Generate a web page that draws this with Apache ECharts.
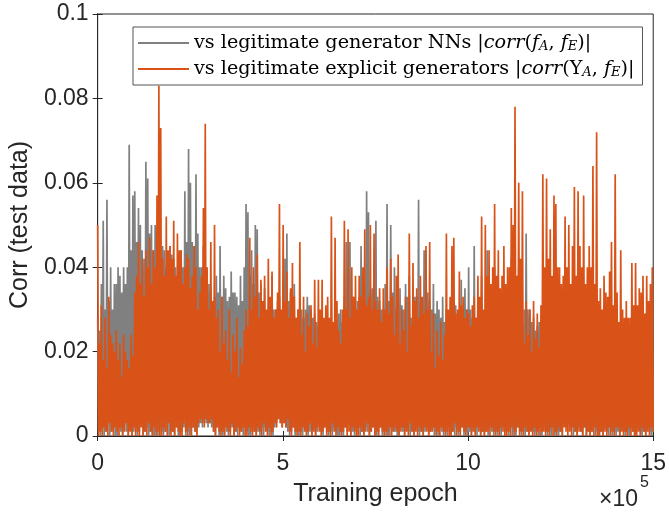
<!DOCTYPE html>
<html><head><meta charset="utf-8">
<script src="https://cdn.jsdelivr.net/npm/echarts/dist/echarts.min.js"></script>
<style>html,body{margin:0;padding:0;background:#fff}#c{width:669px;height:512px}</style>
</head><body><div id="c"></div>
<script>
// x axis in units of 10^5 training epochs
const xMin = 0, xMax = 15, xInterval = 5;
const yMin = 0, yMax = 0.1, yInterval = 0.02;
const seriesNames = ['gray', 'orange'];
// |corr| values, in thousandths (0.001).
// Local "peak" readings and the low "dip" readings between them are stored
// separately and alternate along the epoch axis (0 .. 15e5).
const grayPeakMilli = [
28,25,36,51,30,56,32,40,30,36, 36,40,38,34,40,36,40,69,44,57, 58,46,54,50,44,42,65,61,48,50,
44,50,46,48,40,45,44,40,42,45, 43,42,40,38,42,44,40,58,46,68, 60,46,45,62,48,40,40,45,38,36,
36,35,32,33,38,34,45,33,38,35, 32,33,39,34,34,33,31,38,32,40, 55,53,38,44,36,50,49,34,36,30,
35,28,30,30,38,30,30,32,33,28, 30,42,48,32,34,33,36,28,30,28, 30,28,30,33,31,30,28,29,27,26,
28,30,25,28,27,26,24,25,26,24, 29,30,27,33,46,32,46,30,33,28, 32,33,45,30,32,58,53,34,35,32,
51,33,32,30,30,36,55,32,50,34, 40,30,28,35,31,30,36,33,38,28, 32,33,33,56,31,30,44,44,34,32,
30,36,29,32,30,28,33,27,30,25, 27,28,29,31,25,28,37,28,35,30, 40,30,28,45,28,32,28,38,28,26,
44,26,30,28,40,29,27,29,25,26, 27,28,27,42,30,30,28,40,26,26, 30,48,30,30,27,28,25,26,27,27,
13,25,20,12,22,17,28,11,18,15, 20,14,30,16,12,15,18,25,13,12, 15,25,12,20,19,18,11,28,16,15,
12,28,20,14,22,17,20,13,25,18, 22,13,25,15,20,11,18,19,24,12, 25,16,15,13,20,18,22,12,18,20
];
const grayDipMilli = [
1,0,2,0,1,3,0,1,2,0, 0,2,1,0,3,1,0,2,0,1, 2,0,1,3,0,1,2,0,1,0,
0,1,0,2,1,0,1,3,0,1, 1,0,2,0,0,1,2,0,1,0, 0,2,1,0,2,3,2,4,3,2,
3,2,1,0,2,0,1,0,2,1, 0,1,2,0,1,0,3,1,0,2, 1,0,0,2,1,0,1,0,2,0,
2,1,0,1,0,2,3,4,3,2, 3,2,1,0,1,2,0,1,0,1, 0,2,1,0,1,0,2,0,1,3,
1,0,2,1,0,1,0,2,1,0, 0,1,0,2,1,3,0,1,0,2, 2,0,1,0,2,1,0,1,2,0,
0,1,2,0,1,0,1,0,2,1, 1,0,0,2,1,0,2,1,0,1, 0,2,1,0,1,0,1,2,0,1,
2,0,1,0,2,1,0,1,0,2, 0,1,0,2,0,1,2,0,1,0, 1,0,2,1,0,2,0,1,0,1,
0,2,1,0,1,0,1,0,2,1, 1,0,2,0,1,0,2,1,0,1, 0,1,0,2,1,0,1,0,2,0,
2,1,0,1,0,2,0,1,0,1, 0,3,2,3,2,2,0,1,0,2, 1,0,2,0,1,0,1,2,0,1,
0,1,0,2,1,0,2,0,1,0, 1,0,2,1,0,1,0,2,1,0, 0,2,1,0,1,0,2,1,0,1
];
const orangePeakMilli = [
50,22,31,18,28,16,33,24,22,20, 25,18,22,14,24,20,18,16,24,19, 34,38,46,36,42,33,44,40,47,36,
44,40,57,83,73,42,38,52,44,45, 42,51,38,48,44,44,36,40,43,42, 35,38,45,40,30,34,38,54,74,40,
30,46,32,50,28,30,20,33,22,25, 18,30,15,24,20,28,14,21,17,25, 30,26,47,30,40,33,43,28,37,32,
38,30,42,33,39,28,30,34,55,30, 50,32,39,28,35,41,33,28,30,46, 24,33,20,29,26,31,22,37,21,37,
30,37,28,31,33,28,52,27,47,32, 25,22,30,51,30,49,28,40,33,38, 30,38,33,40,49,31,33,50,30,48,
32,30,35,27,35,30,40,29,42,33, 24,38,43,22,30,25,33,20,48,26, 41,32,35,28,38,33,29,45,30,46,
20,29,16,25,19,27,18,24,48,30, 33,45,47,29,30,39,31,33,28,30, 29,26,31,33,28,38,33,52,30,50,
38,44,36,40,55,38,44,35,38,45, 36,40,40,54,50,78,38,60,42,58, 22,32,24,30,20,32,23,29,21,31,
62,40,61,42,49,38,57,55,40,40, 36,38,52,40,50,36,45,59,38,58, 45,40,57,36,40,45,40,64,36,72,
32,35,30,38,34,33,39,46,31,62, 34,27,44,30,28,32,28,28,41,31, 41,31,35,34,38,29,38,32,36,40
];
const orangeDipMilli = [
0,1,0,2,1,0,3,1,0,2, 1,0,2,0,1,3,0,1,0,2, 0,1,0,2,0,1,0,3,1,0,
2,0,1,0,0,2,1,0,3,0, 1,0,2,1,0,0,3,1,0,2, 0,2,1,0,3,4,3,2,4,3,
3,4,1,0,2,1,0,1,0,2, 1,0,3,0,1,2,0,1,2,0, 0,2,1,0,1,0,2,1,0,3,
1,0,2,0,1,3,2,4,3,2, 3,2,4,1,0,2,1,0,1,0, 2,1,0,1,3,0,1,0,2,1,
0,1,2,0,1,0,3,1,0,2, 1,0,1,2,0,1,0,2,1,0, 0,2,1,0,1,3,0,1,2,0,
1,0,2,1,0,1,0,2,0,1, 2,1,0,1,2,0,1,0,3,1, 0,1,0,2,1,0,2,1,0,1,
1,2,0,1,0,2,1,0,1,0, 0,1,3,0,1,0,2,1,0,2, 2,0,1,0,2,1,0,1,0,1,
1,0,2,1,0,1,0,2,1,0, 0,1,0,2,0,1,2,0,1,0, 2,1,0,1,0,2,0,1,0,1,
1,0,1,0,2,0,1,0,2,1, 0,2,1,0,1,0,2,1,0,1, 1,0,2,0,1,0,1,0,2,0,
0,1,0,1,0,2,0,1,0,2, 2,0,1,0,1,0,2,0,1,0, 0,1,0,2,1,0,1,0,2,1
];

// peaks and dips alternate: peak_0, dip_0, peak_1, dip_1, ...
function toPoints(peaks, dips) {
  const n = peaks.length * 2;
  const pts = [];
  for (let i = 0; i < peaks.length; i++) {
    pts.push([xMin + (2 * i) * (xMax - xMin) / (n - 1), peaks[i] / 1000]);
    pts.push([xMin + (2 * i + 1) * (xMax - xMin) / (n - 1), dips[i] / 1000]);
  }
  return pts;
}

const axisColor = '#262626';
const tickFont = { fontFamily: 'Liberation Sans', fontSize: 23, color: axisColor };
const serif = 'DejaVu Serif';
const legendRich = {
  it: { fontFamily: serif, fontStyle: 'italic', fontSize: 19.2, color: '#000' },
  sub: { fontFamily: serif, fontStyle: 'italic', fontSize: 13, color: '#000', padding: [8, 0, 0, 0] }
};
const legendLabels = {
  gray: 'vs legitimate generator NNs |{it|corr}({it|f}{sub|A}, {it|f}{sub|E})|',
  orange: 'vs legitimate explicit generators |{it|corr}(\u03A5{sub|A}, {it|f}{sub|E})|'
};

const chart = echarts.init(document.getElementById('c'), null, { renderer: 'canvas' });
chart.setOption({
  animation: false,
  backgroundColor: '#fff',
  grid: { left: 94, right: 13, top: 14, bottom: 75, show: true, borderColor: axisColor, borderWidth: 1, backgroundColor: 'transparent' },
  legend: {
    data: seriesNames.map(n => ({ name: n, icon: 'rect' })),
    orient: 'vertical', left: 133, top: 27,
    padding: [5, 8, 5, 5], itemGap: 4, itemWidth: 51, itemHeight: 2,
    borderColor: '#555', borderWidth: 1, backgroundColor: '#fff',
    textStyle: { fontFamily: serif, fontSize: 19.2, color: '#000', lineHeight: 22, rich: legendRich },
    formatter: name => legendLabels[name]
  },
  xAxis: [{
    type: 'value', min: xMin, max: xMax, interval: xInterval,
    name: 'Training epoch', nameLocation: 'middle', nameGap: 46,
    nameTextStyle: { fontFamily: 'Liberation Sans', fontSize: 25, color: axisColor },
    axisLine: { show: true, lineStyle: { color: axisColor, width: 1 } },
    axisTick: { show: true, inside: true, length: 5, lineStyle: { color: axisColor } },
    axisLabel: Object.assign({ margin: 16 }, tickFont),
    splitLine: { show: false }
  }, {
    type: 'value', position: 'top', min: xMin, max: xMax, interval: xInterval,
    axisLine: { show: true, lineStyle: { color: axisColor, width: 1 } },
    axisTick: { show: true, inside: true, length: 5, lineStyle: { color: axisColor } },
    axisLabel: { show: false }, splitLine: { show: false }
  }],
  yAxis: [{
    type: 'value', min: yMin, max: yMax, interval: yInterval,
    name: 'Corr (test data)', nameLocation: 'middle', nameGap: 61,
    nameTextStyle: { fontFamily: 'Liberation Sans', fontSize: 25, color: axisColor },
    axisLine: { show: true, lineStyle: { color: axisColor, width: 1 } },
    axisTick: { show: true, inside: true, length: 5, lineStyle: { color: axisColor } },
    axisLabel: Object.assign({ margin: 9 }, tickFont),
    splitLine: { show: false }
  }, {
    type: 'value', position: 'right', min: yMin, max: yMax, interval: yInterval,
    axisLine: { show: true, lineStyle: { color: axisColor, width: 1 } },
    axisTick: { show: true, inside: true, length: 5, lineStyle: { color: axisColor } },
    axisLabel: { show: false }, splitLine: { show: false }
  }],
  graphic: [
    { type: 'text', left: 599, top: 488, z: 10, style: { text: '\u00D710', font: '23px "Liberation Sans"', fill: axisColor } },
    { type: 'text', left: 640, top: 475, z: 10, style: { text: '5', font: '16px "Liberation Sans"', fill: axisColor } }
  ],
  series: [{
    name: 'gray', type: 'line', data: toPoints(grayPeakMilli, grayDipMilli),
    symbol: 'none', showSymbol: false, clip: true, sampling: null,
    lineStyle: { color: '#808080', width: 1.7, join: 'bevel' }, itemStyle: { color: '#808080' }
  }, {
    name: 'orange', type: 'line', data: toPoints(orangePeakMilli, orangeDipMilli),
    symbol: 'none', showSymbol: false, clip: true, sampling: null,
    lineStyle: { color: '#D95319', width: 1.7, join: 'bevel' }, itemStyle: { color: '#D95319' }
  }]
});
</script>
</body></html>
